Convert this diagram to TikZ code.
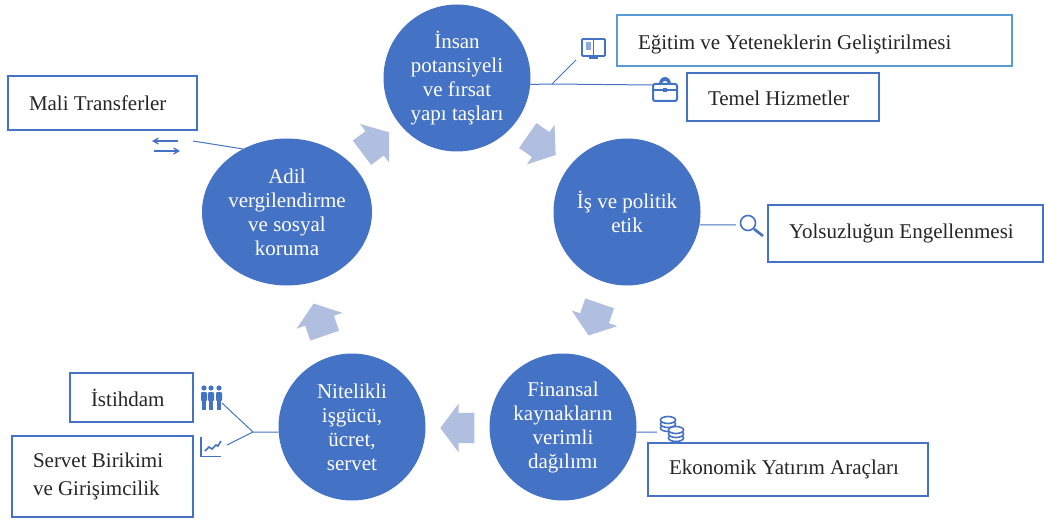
\documentclass[tikz,border=0pt]{standalone}
\usepackage{fontspec}
\setmainfont{Liberation Serif}
\usepackage{color}
\usetikzlibrary{arrows,shapes.geometric,shapes.arrows}
\definecolor{circleblue}{HTML}{4472C4}
\definecolor{arrowblue}{HTML}{B0BEDF}
\definecolor{lightline}{HTML}{5B9BD5}
\tikzset{
  stage/.style={circle, fill=circleblue, text=white, align=flush center, inner sep=0pt, minimum size=147pt},
  turn/.style={single arrow, fill=arrowblue, inner xsep=0pt, inner ysep=15pt, minimum height=34pt,
    single arrow head extend=9pt, single arrow tip angle=106, single arrow head indent=0pt},
  infobox/.style={draw=circleblue, line width=2pt, fill=white, anchor=north west, align=flush left,
    inner xsep=21pt, inner ysep=0pt, outer sep=0pt, text=black!85},
  link/.style={draw=circleblue, line width=1pt},
  iconline/.style={draw=circleblue, line width=1.3pt}
}
\begin{document}
\begin{tikzpicture}[x=1pt, y=-1pt, font=\fontsize{21}{24}\selectfont]
  \useasboundingbox (0,0) rectangle (1044,524);
  % cycle
  \node[stage] (human) at (457,78) {İnsan\\potansiyeli\\ve fırsat\\yapı taşları};
  \node[stage] (ethics) at (627,212) {İş ve politik\\etik};
  \node[stage] (finance) at (563,427) {Finansal\\kaynakların\\verimli\\dağılımı};
  \node[stage] (labour) at (352,427) {Nitelikli\\işgücü,\\ücret,\\servet};
  \node[stage, ellipse, minimum width=170pt, minimum height=147pt] (fair) at (287,212) {Adil\\vergilendirme\\ve sosyal\\koruma};
  \node[turn, rotate=-35] (turna) at (537,142) {};
  \node[turn, rotate=-109] (turnb) at (596,314) {};
  \node[turn, rotate=180] (turnc) at (463,428) {};
  \node[turn, rotate=109] (turnd) at (321,325) {};
  \node[turn, rotate=37] (turne) at (371,146) {};
  % boxes
  \node[infobox, text width=353pt, minimum height=51pt, draw=lightline, text height=22pt] (skills) at (617,15) {Eğitim ve Yeteneklerin Geliştirilmesi};
  \node[infobox, text width=150pt, minimum height=48pt, text height=18pt] (services) at (687,73) {Temel Hizmetler};
  \node[infobox, text width=233pt, minimum height=57pt] (corruption) at (768,205) {Yolsuzluğun Engellenmesi};
  \node[infobox, text width=238pt, minimum height=53pt] (tools) at (648,443) {Ekonomik Yatırım Araçları};
  \node[infobox, text width=147pt, minimum height=54pt] (transfer) at (8,76) {Mali Transferler};
  \node[infobox, text width=81pt, minimum height=49pt] (jobs) at (70,373) {İstihdam};
  \node[infobox, text width=139pt, minimum height=81pt] (wealth) at (12,436) {Servet Birikimi\\[4pt]ve Girişimcilik};
  % connectors
  \coordinate (humanhub) at (552,84);
  \coordinate (bookend) at (576,60);
  \coordinate (caseend) at (652,85);
  \coordinate (lensend) at (736,225);
  \coordinate (coinend) at (657,432);
  \coordinate (labourhub) at (253,432);
  \coordinate (peopleend) at (222,403);
  \coordinate (chartend) at (227,445);
  \coordinate (swapend) at (193,141);
  \draw[link] (human.-5) -- (humanhub) -- (caseend);
  \draw[link] (humanhub) -- (bookend);
  \draw[link] (ethics.-10) -- (lensend);
  \draw[link] (finance.-4) -- (coinend);
  \draw[link] (labour.184) -- (labourhub) -- (peopleend);
  \draw[link] (labourhub) -- (chartend);
  \draw[link] (fair.125) -- (swapend);
  % icons
  \draw[iconline, line width=1.8pt, rounded corners=1pt] (582,39) rectangle (605,56);
  \draw[iconline, line width=1.8pt] (593.5,39) -- (593.5,56) (589,58) -- (598,58);
  \fill[circleblue!60] (586,42) rectangle (591,50);
  \fill[circleblue] (659,84) arc (180:360:6 and 7) -- cycle;
  \fill[white] (662,84) arc (180:360:3 and 3) -- cycle;
  \draw[iconline, line width=2pt, fill=white, rounded corners=2pt] (653,84) rectangle (677,101);
  \draw[iconline, line width=2pt] (653,90) -- (677,90);
  \fill[circleblue] (663,88) rectangle (667,92);
  \draw[iconline, line width=1.6pt] (748,223) circle (7.5);
  \draw[iconline, line width=2.6pt] (754,229) -- (763,236);
  \foreach \coinx/\coiny in {668/428, 668/424, 668/420, 676/438, 676/434, 676/430} {
    \draw[iconline, fill=white, line width=1.6pt] (\coinx,\coiny) ellipse (7.5 and 3.5);
  }
  \foreach \headx in {204,211,219} {
    \fill[circleblue] (\headx,388) circle (2.6);
    \fill[circleblue, rounded corners=1pt] (\headx-3,392) rectangle (\headx+3,401);
    \fill[circleblue] (\headx-2,400) rectangle (\headx+2,410);
  }
  \draw[iconline] (201,437) -- (201,456.5) -- (221,456.5);
  \draw[iconline, line width=1.6pt] (205,451) -- (209,447) -- (212,449) -- (216,445) -- (218,446) -- (221,441);
  \draw[iconline, <-, >=angle 60] (152,141) -- (178,141);
  \draw[iconline, ->, >=angle 60] (154,151) -- (180,151);
\end{tikzpicture}
\end{document}
